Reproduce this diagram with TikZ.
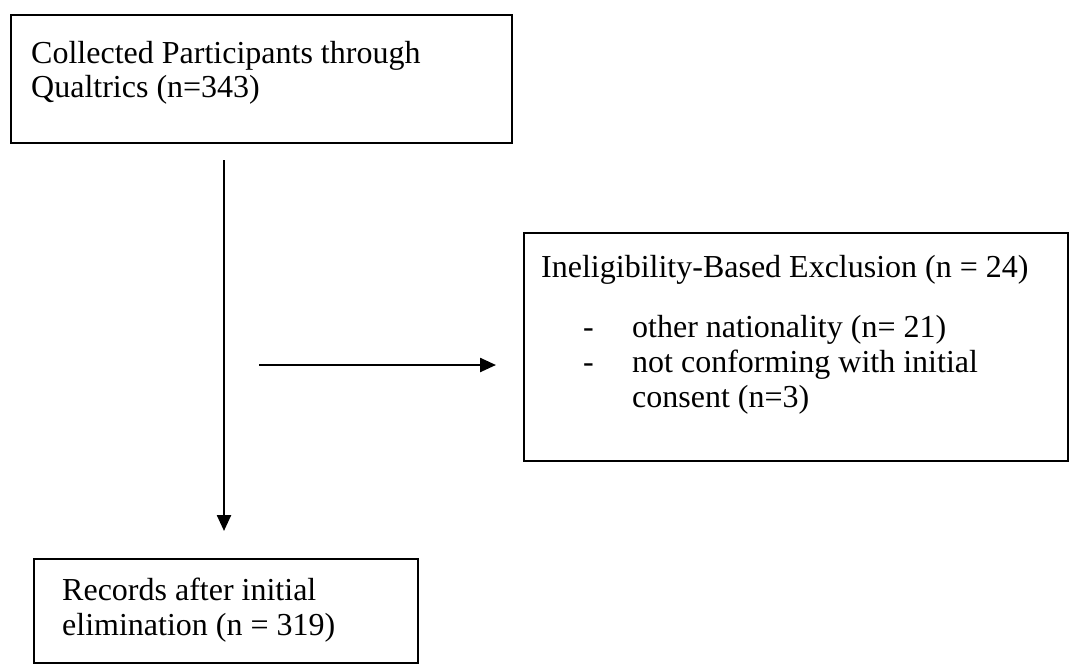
\documentclass[tikz,border=0pt]{standalone}
\usepackage{fontspec}
\setmainfont{Liberation Serif}
\usetikzlibrary{arrows.meta}
\begin{document}
\begin{tikzpicture}[x=1pt,y=-1pt,
  box/.style={draw=black, line width=2pt, rectangle, inner sep=0pt, anchor=north west},
  txt/.style={inner sep=0pt, anchor=base west, font=\fontsize{32pt}{35pt}\selectfont},
  arr/.style={line width=2.4pt, -{Triangle[length=16pt,width=14pt]}}]
\useasboundingbox (0,0) rectangle (1070,664);
% boxes
\node[box, minimum width=501pt, minimum height=128pt] (b1) at (10,14) {};
\node[box, minimum width=544pt, minimum height=228pt] (b2) at (523,232) {};
\node[box, minimum width=384pt, minimum height=104pt] (b3) at (33,558) {};
% texts
\node[txt] (t1a) at (31,63) {Collected Participants through};
\node[txt] (t1b) at (31,97) {Qualtrics (n=343)};
\node[txt] (t2a) at (541,277) {Ineligibility-Based Exclusion (n = 24)};
\node[txt] (d1) at (583,337) {-};
\node[txt] (t2b) at (632,337) {other nationality (n= 21)};
\node[txt] (d2) at (583,372) {-};
\node[txt] (t2c) at (632,372) {not conforming with initial};
\node[txt] (t2d) at (632,407) {consent (n=3)};
\node[txt] (t3a) at (62,600) {Records after initial};
\node[txt] (t3b) at (62,635) {elimination (n = 319)};
% connectors
\coordinate (v1) at (224,160);
\coordinate (v2) at (224,531);
\coordinate (h1) at (259,365);
\coordinate (h2) at (496,365);
\draw[arr] (v1) -- (v2);
\draw[arr] (h1) -- (h2);
\end{tikzpicture}
\end{document}
